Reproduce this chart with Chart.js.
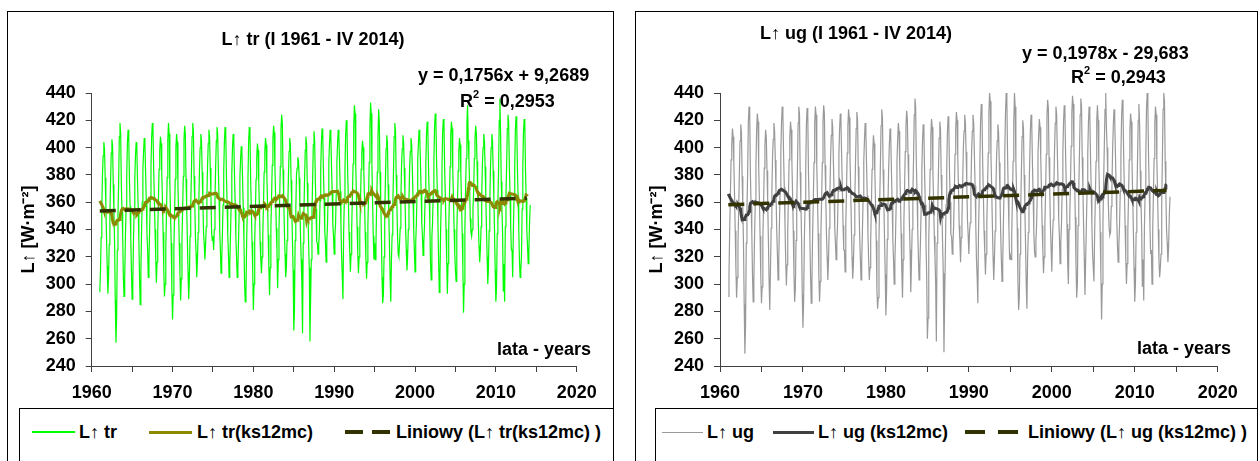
<!DOCTYPE html>
<html><head><meta charset="utf-8">
<script src="https://cdn.jsdelivr.net/npm/chart.js@4.4.0/dist/chart.umd.min.js"></script>
<style>
html,body{margin:0;padding:0;background:#fff}
body{width:1260px;height:461px;overflow:hidden;position:relative;font-family:"Liberation Sans",Arial,sans-serif;font-weight:bold;color:#000}
.panel{position:absolute;border:1px solid #000;box-sizing:border-box}
canvas{position:absolute}
.txt{position:absolute;white-space:nowrap;font-size:18px;line-height:20px}
.c{transform:translateX(-50%)}
sup{font-size:11px;line-height:0;position:relative;top:-2px}
.legbox{position:absolute;border:1px solid #000;box-sizing:border-box}
.sample{position:absolute}
</style></head><body>
<div class="panel" style="left:7px;top:11px;width:607px;height:470px"></div>
<div class="panel" style="left:635px;top:11px;width:623px;height:470px"></div>
<div class="legbox" style="left:19px;top:408px;width:595px;height:70px"></div>
<div class="legbox" style="left:655px;top:408px;width:603px;height:70px"></div>
<canvas id="cTr" width="605" height="396" style="left:8px;top:12px"></canvas>
<canvas id="cUg" width="621" height="396" style="left:636px;top:12px"></canvas>
<div class="txt c" style="left:313px;top:29px">L↑ tr (I 1961 - IV 2014)</div>
<div class="txt" style="left:418px;top:65px">y = 0,1756x + 9,2689</div>
<div class="txt" style="left:460px;top:91px">R<sup>2</sup> = 0,2953</div>
<div class="txt" style="left:497px;top:339px">lata - years</div>
<div class="txt c" style="left:856px;top:23px">L↑ ug (I 1961 - IV 2014)</div>
<div class="txt" style="left:1022px;top:43px">y = 0,1978x - 29,683</div>
<div class="txt" style="left:1071px;top:67px">R<sup>2</sup> = 0,2943</div>
<div class="txt" style="left:1137px;top:338px">lata - years</div>
<div id="legends"></div>
<script>
// Monthly values, Jan 1961 - Apr 2014 (one row per year)
const trValues = [
294,309,334,356,380,394,404,399,378,358,334,313,
293,305,329,351,375,396,406,401,373,353,329,288,
257,275,325,351,375,408,418,410,373,353,335,305,
291,305,333,355,379,403,413,407,377,357,333,309,
289,300,332,354,378,394,404,400,376,356,332,305,
285,310,338,360,384,397,407,403,382,362,338,325,
305,318,340,362,386,408,418,412,384,364,340,321,
301,316,338,360,384,398,408,403,382,362,338,311,
291,300,326,352,378,406,418,410,374,352,330,296,
274,292,326,351,377,400,410,404,373,353,330,308,
288,304,333,355,379,406,416,410,377,357,333,309,
289,304,335,357,381,408,418,412,379,359,335,322,
305,318,338,360,384,400,410,405,382,362,338,330,
318,328,342,363,387,403,413,408,385,365,338,332,
335,325,340,362,386,405,415,410,384,364,340,325,
308,318,336,358,382,405,415,410,380,360,336,322,
305,315,335,357,381,400,410,405,379,359,335,320,
305,312,332,354,378,391,401,396,376,356,332,300,
287,292,331,353,377,405,415,409,375,355,331,310,
281,300,331,353,377,393,403,398,375,355,331,318,
308,320,336,358,382,397,407,402,380,360,336,312,
292,312,341,363,387,406,416,411,385,365,341,325,
297,318,340,362,386,414,424,418,384,364,340,322,
305,312,332,354,378,397,407,402,376,356,332,310,
266,280,332,355,380,385,393,390,378,358,335,318,
300,264,330,352,376,398,408,403,374,354,330,312,
258,290,318,353,377,402,412,405,375,355,331,330,
322,328,339,361,385,404,414,409,383,363,339,330,
316,330,343,365,389,403,413,408,387,367,343,335,
322,335,344,366,390,403,413,408,388,368,344,320,
305,289,338,360,384,410,420,414,382,362,338,325,
309,322,342,364,388,416,431,425,386,366,342,322,
308,320,338,360,384,396,405,400,382,362,338,320,
304,316,343,365,389,415,433,425,387,360,335,318,
330,318,330,358,382,408,428,418,382,362,338,305,
286,292,320,351,375,399,409,404,373,353,329,305,
287,318,336,358,382,408,418,412,380,360,336,322,
320,330,341,363,387,399,409,404,385,365,341,325,
310,320,340,362,386,397,407,402,384,364,340,324,
309,330,345,367,391,403,413,408,389,369,345,335,
321,330,342,364,388,409,419,414,386,366,342,315,
303,335,345,367,391,415,425,420,389,369,345,318,
294,305,340,362,386,411,421,416,384,364,340,318,
293,315,340,362,386,409,419,414,384,364,340,322,
310,302,337,359,383,397,407,402,381,361,337,312,
279,300,340,368,392,418,431,405,392,372,348,338,
335,340,355,368,392,406,416,411,390,368,344,328,
316,325,342,364,388,400,410,405,386,366,342,320,
300,312,339,361,385,400,410,405,383,363,339,310,
287,298,337,359,383,420,436,410,375,355,337,295,
315,287,342,364,388,414,424,418,386,366,342,325,
325,305,340,362,386,413,423,417,384,364,340,318,
305,310,320,355,386,411,421,416,383,363,339,328,
315,325,345,358
];
const ugValues = [
291,306,339,364,391,402,414,408,389,366,339,312,
290,305,329,354,381,405,417,411,379,356,329,285,
249,270,330,355,382,418,430,424,380,357,338,307,
287,302,335,360,387,413,425,419,385,362,335,306,
286,298,333,358,385,401,413,407,383,360,333,302,
281,310,341,366,393,406,418,412,391,368,341,323,
303,318,344,369,396,418,430,424,394,371,344,319,
299,314,339,364,391,407,419,413,389,366,339,307,
287,296,332,357,384,418,430,424,382,359,334,292,
268,288,331,356,383,417,429,423,381,358,334,306,
286,302,337,362,389,418,430,424,387,364,337,307,
287,302,337,362,389,419,431,425,387,364,337,320,
303,318,341,366,393,409,421,415,391,368,341,330,
318,330,343,368,395,413,425,419,393,370,343,325,
325,309,344,369,396,416,428,422,394,371,344,320,
304,314,336,361,388,414,426,420,386,363,336,320,
303,316,338,363,390,406,418,412,388,365,338,318,
303,312,332,357,384,397,409,403,382,359,332,296,
282,290,334,359,386,416,428,422,384,361,334,307,
277,295,333,358,385,402,414,408,383,360,333,318,
300,316,337,362,389,406,418,412,387,364,337,310,
290,318,345,370,397,415,427,421,395,372,345,325,
294,316,340,365,392,424,436,430,390,367,340,320,
303,310,331,356,383,405,417,411,381,358,331,306,
260,275,332,357,384,409,421,415,382,360,335,320,
300,258,330,355,382,407,419,413,380,357,330,308,
250,288,322,358,385,411,423,417,383,360,336,335,
322,330,343,368,395,414,426,420,393,370,343,332,
316,334,347,372,399,412,424,418,397,374,347,336,
322,338,345,370,397,412,424,418,395,372,345,318,
305,286,339,364,391,420,432,426,389,366,339,324,
307,322,344,369,396,425,440,434,394,371,344,320,
303,318,339,364,391,405,417,411,389,366,339,318,
302,315,345,370,397,425,440,434,395,365,340,318,
321,318,335,362,390,418,440,430,391,368,341,302,
281,290,322,355,382,408,420,414,380,357,330,300,
282,318,338,363,390,412,424,418,388,365,338,324,
320,332,343,368,395,409,421,415,393,370,343,325,
308,320,343,368,395,423,435,429,393,370,343,326,
309,334,347,372,399,418,430,424,397,374,347,335,
315,330,344,369,396,419,431,425,394,371,344,315,
300,340,349,374,401,426,438,432,399,376,349,315,
290,300,343,368,395,424,436,430,393,370,343,318,
292,318,343,368,395,418,430,424,393,370,343,322,
312,302,338,363,390,419,431,420,388,365,338,308,
274,300,345,375,402,428,440,415,400,378,355,340,
336,338,357,372,399,416,428,422,397,372,347,328,
316,328,343,368,395,423,435,429,393,370,343,320,
300,315,339,364,391,413,425,419,389,366,339,312,
287,300,338,363,390,420,432,418,383,361,340,298,
318,288,342,367,394,428,440,430,392,369,342,322,
325,300,340,365,392,418,430,424,390,367,340,318,
305,312,322,358,392,428,440,434,390,367,340,330,
316,328,350,364
];
// first six 12-month mean values (window reaches before 1961)
const trMaStart = [361,360,359,358,357,356];
const ugMaStart = [366,365,364,363,362,361];
// linear trend coefficients printed on the chart
const trTrend = [0.1756, 9.2689];
const ugTrend = [0.1978, -29.683];
const xTicks = [1960,1965,1970,1975,1980,1985,1990,1995,2000,2005,2010,2015,2020];
const xLabels = [1960,1970,1980,1990,2000,2010,2020];
const yTicks = [240,260,280,300,320,340,360,380,400,420,440];
const trLabels = ["L↑ tr","L↑ tr(ks12mc)","Liniowy (L↑ tr(ks12mc) )"];
const ugLabels = ["L↑ ug","L↑ ug (ks12mc)","Liniowy (L↑ ug (ks12mc) )"];
const trColors = ["#00ff00","#8c8a00","#333300"];
const ugColors = ["#999999","#404040","#333300"];

function toPts(vals){ return vals.map((v,i)=>({x:1961+i/12, y:v})); }
function movingAvg(vals, start){
  const out=[];
  for(let i=0;i<vals.length;i++){
    if(i<start.length){ out.push({x:1961+i/12,y:start[i]}); continue; }
    if(i+5>=vals.length) break;
    let s=0; for(let k=i-6;k<=i+5;k++) s+=vals[k];
    out.push({x:1961+i/12,y:s/12});
  }
  return out;
}
function trendPts(ma, c){
  const a=ma[0].x, b=ma[ma.length-1].x;
  return [{x:a,y:c[0]*a+c[1]},{x:b,y:c[0]*b+c[1]}];
}
const FONT={family:"'Liberation Sans', Arial, sans-serif", size:18, weight:'bold'};

function makeChart(id, raw, maStart, coef, labels, colors, padRight, yWidth){
  const ma = movingAvg(raw, maStart);
  return new Chart(document.getElementById(id), {
    type:'line',
    data:{datasets:[
      {label:labels[0], data:toPts(raw), borderColor:colors[0], borderWidth:1.2, pointRadius:0, order:3},
      {label:labels[1], data:ma, borderColor:colors[1], borderWidth:3, pointRadius:0, order:2},
      {label:labels[2], data:trendPts(ma,coef), borderColor:colors[2], borderWidth:3.5, borderDash:[16,9], borderCapStyle:'butt', pointRadius:0, order:1}
    ]},
    options:{
      responsive:false, animation:false, events:[],
      elements:{line:{tension:0}},
      plugins:{legend:{display:false}, tooltip:{enabled:false}},
      layout:{padding:{left:10,right:padRight,top:81,bottom:0}},
      scales:{
        x:{type:'linear',min:1960,max:2020,
          afterBuildTicks:s=>{s.ticks=xTicks.map(v=>({value:v}));},
          ticks:{autoSkip:false,maxRotation:0,minRotation:0,padding:10,color:'#000',font:FONT,
                 callback:v=>xLabels.includes(v)?String(v):''},
          grid:{drawOnChartArea:false,drawTicks:true,tickLength:6,color:'#404040'},
          border:{display:true,color:'#404040',width:1},
          afterFit:s=>{s.height=42;}},
        y:{type:'linear',min:240,max:440,
          afterBuildTicks:s=>{s.ticks=yTicks.map(v=>({value:v}));},
          ticks:{padding:10,color:'#000',font:FONT,callback:v=>String(v)},
          grid:{drawOnChartArea:false,drawTicks:true,tickLength:6,color:'#404040'},
          border:{display:true,color:'#404040',width:1},
          title:{display:true,text:'L↑ [W·m⁻²]',color:'#000',font:FONT,padding:0},
          afterFit:s=>{s.width=yWidth;}}
      }
    }
  });
}
makeChart('cTr', trValues, trMaStart, trTrend, trLabels, trColors, 36.3, 73.7);
makeChart('cUg', ugValues, ugMaStart, ugTrend, ugLabels, ugColors, 39.3, 74);

// HTML legends built from the series definitions
const legendLayout = [
  {labels:trLabels, colors:trColors, widths:[1.5,3,3.5], items:[[32,43,79],[149,43,197],[345,45,396]], dash:[18,9]},
  {labels:ugLabels, colors:ugColors, widths:[1,3,3.5], items:[[662,41,707],[773,41,818],[965,53,1028]], dash:[20,13]}
];
const host=document.getElementById('legends');
legendLayout.forEach(L=>{
  L.items.forEach((it,k)=>{
    const s=document.createElement('div');
    s.className='sample';
    const h=L.widths[k];
    s.style.cssText=`left:${it[0]}px;top:${432-h/2}px;width:${it[1]}px;height:${h}px;`+
      (k===2?`background:repeating-linear-gradient(to right,${L.colors[k]} 0 ${L.dash[0]}px,transparent ${L.dash[0]}px ${L.dash[0]+L.dash[1]}px)`:`background:${L.colors[k]}`);
    host.appendChild(s);
    const t=document.createElement('div');
    t.className='txt'; t.style.left=it[2]+'px'; t.style.top='422px'; t.textContent=L.labels[k];
    host.appendChild(t);
  });
});
</script>
</body></html>
